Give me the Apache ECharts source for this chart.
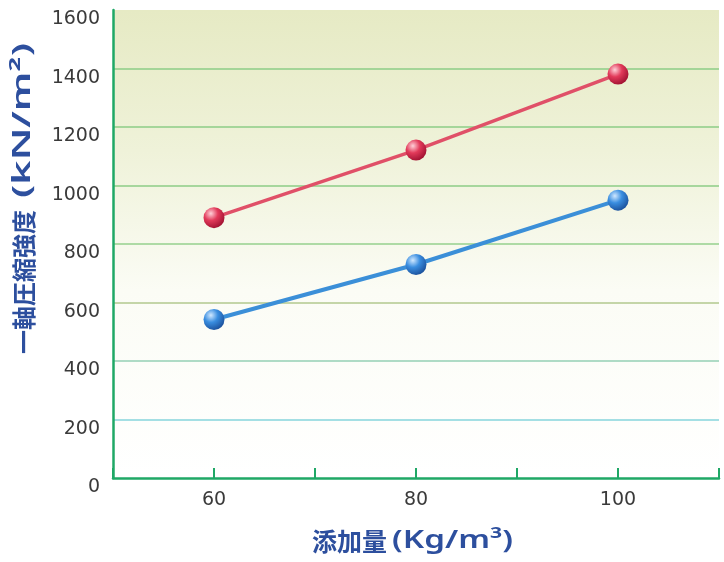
<!DOCTYPE html>
<html><head><meta charset="utf-8">
<script src="https://cdn.jsdelivr.net/npm/echarts@6/dist/echarts.min.js"></script>
<style>html,body{margin:0;padding:0;background:#fff}#c{width:724px;height:562px}</style>
</head><body><div id="c"></div>
<script>
var xValues = [60, 80, 100];
var redValues = [890, 1121, 1381];
var blueValues = [542, 730, 950];
var xTickLabels = [60, 80, 100];
var yTitleJp = '一軸圧縮強度';
var yTitleUnit = '(kN/m²)';
var xTitleJp = '添加量';
var xTitleUnit = '(Kg/m³)';

var measureCtx = document.createElement('canvas').getContext('2d');
function textWidth(t, font){ measureCtx.font = font; return measureCtx.measureText(t).width; }
var latinFont = '600 25px "Noto Sans"';
var jpFont = 'bold 24px "Noto Sans CJK JP"';
var jpFontX = 'bold 25px "Noto Sans CJK JP"';

function pairs(xs, ys){ return xs.map(function(x,i){return [x, ys[i]];}); }
function ball(c1, c2, c3){
  return {type:'radial', x:0.35, y:0.3, r:0.75, colorStops:[
    {offset:0, color:c1},{offset:0.45, color:c2},{offset:1, color:c3}]};
}
var titleColor = '#2d4f9e';
var yUnitScale = 155 / textWidth(yTitleUnit, latinFont);
var xUnitScale = 121 / textWidth(xTitleUnit, latinFont);

var chart = echarts.init(document.getElementById('c'));
chart.setOption({
  animation:false,
  grid:{left:113, right:5, top:10, bottom:84, show:true, borderWidth:0,
    backgroundColor:{type:'linear', x:0, y:0, x2:0, y2:1, colorStops:[
      {offset:0, color:'#e6eac4'},{offset:0.3, color:'#eff2d9'},{offset:0.6, color:'#fbfcf5'},{offset:1, color:'#ffffff'}]}},
  xAxis:{type:'value', min:50, max:110, interval:10,
    axisLine:{show:true, lineStyle:{color:'#1fa866', width:2.5}},
    axisTick:{show:true, inside:true, length:10, lineStyle:{color:'#1fa866', width:2}},
    splitLine:{show:false},
    axisLabel:{margin:13, fontSize:19, color:'#3a3a3a', fontFamily:'DejaVu Sans',
      formatter:function(v){ return xTickLabels.indexOf(v) >= 0 ? String(v) : ''; }}
  },
  yAxis:{type:'value', min:0, max:1600, interval:200,
    axisLine:{show:true, lineStyle:{color:'#1fa866', width:2.5}},
    axisTick:{show:false},
    splitLine:{show:true, lineStyle:{width:1.5, color:['rgba(0,0,0,0)','#86d4dc','#94cfb4','#b2c98e','#96d08e','#8ccd86','#8ccd86','#8ccd86','rgba(0,0,0,0)']}},
    axisLabel:{margin:13, fontSize:19, color:'#3a3a3a', fontFamily:'DejaVu Sans', verticalAlign:'top',
      formatter:function(v){ return String(v); }}
  },
  graphic:[
    {type:'text', x:12, y:354, rotation:Math.PI/2, z:10,
      style:{text:yTitleJp, fill:titleColor, font:jpFont, align:'left', verticalAlign:'top'}},
    {type:'text', x:10, y:198, rotation:Math.PI/2, scaleX:yUnitScale, z:10,
      style:{text:yTitleUnit, fill:titleColor, font:latinFont, align:'left', verticalAlign:'top'}},
    {type:'text', x:312, y:529, z:10,
      style:{text:xTitleJp, fill:titleColor, font:jpFontX, align:'left', verticalAlign:'top'}},
    {type:'text', x:392, y:528, scaleX:xUnitScale, z:10,
      style:{text:xTitleUnit, fill:titleColor, font:latinFont, align:'left', verticalAlign:'top'}}
  ],
  series:[
    {type:'line', data:pairs(xValues, redValues), symbol:'circle', symbolSize:21,
      lineStyle:{color:'#e05068', width:3.5},
      itemStyle:{color:ball('#ffd0d8','#e23a5a','#9e1030'), borderWidth:0}, z:3},
    {type:'line', data:pairs(xValues, blueValues), symbol:'circle', symbolSize:21,
      lineStyle:{color:'#3b8fd8', width:4},
      itemStyle:{color:ball('#d0e8ff','#3a8ee0','#1a4f9a'), borderWidth:0}, z:3}
  ]
});
</script></body></html>
